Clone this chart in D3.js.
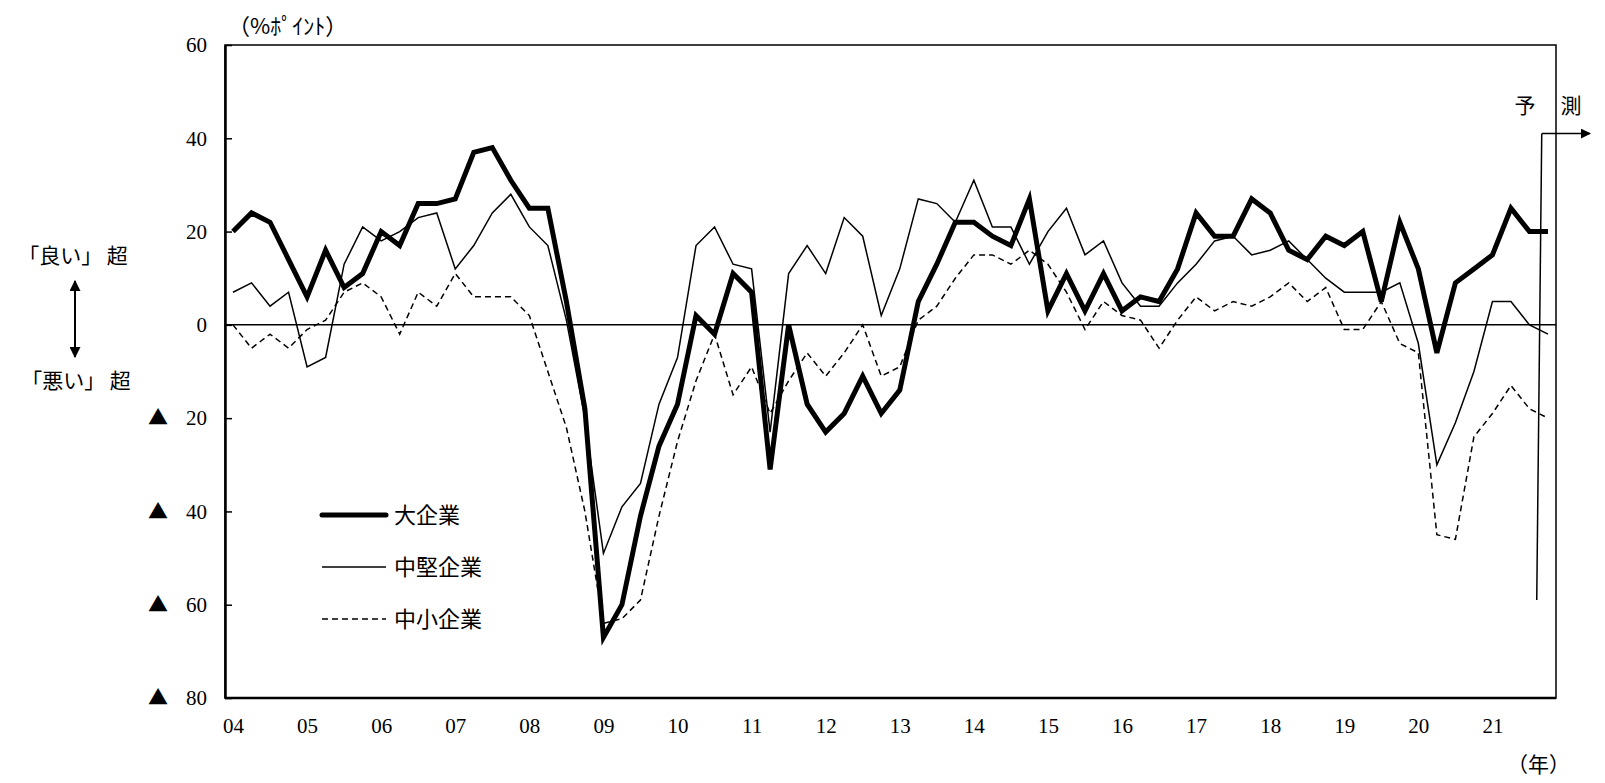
<!DOCTYPE html>
<html>
<head>
<meta charset="utf-8">
<script src="https://cdn.jsdelivr.net/npm/d3@7"></script>
<style>
  body { margin: 0; background: #fff; }
  svg { display: block; }
  .num { font-family: "Liberation Serif", "DejaVu Serif", serif; font-size: 21px; fill: #000; }
  .jp { font-family: "Noto Sans CJK JP", sans-serif; fill: #000; }
</style>
</head>
<body>
<script>
// quarterly, 2004 Q1 .. 2021 Q4 (last one is the forecast)
var years = ["04","05","06","07","08","09","10","11","12","13","14","15","16","17","18","19","20","21"];

var large = [20,24,22,14,6,16,8,11,20,17,
  26,26,27,37,38,31,25,25,5,-18,
  -67,-60,-41,-26,-17,2,-2,11,7,-31,
  0,-17,-23,-19,-11,-19,-14,5,13,22,
  22,19,17,27,3,11,3,11,3,6,
  5,12,24,19,19,27,24,16,14,19,
  17,20,5,22,12,-6,9,12,15,25,
  20,20];

var medium = [7,9,4,7,-9,-7,13,21,18,20,
  23,24,12,17,24,28,21,17,1,-20,
  -49,-39,-34,-17,-7,17,21,13,12,-23,
  11,17,11,23,19,2,12,27,26,22,
  31,21,21,13,20,25,15,18,9,4,
  4,9,13,18,19,15,16,18,14,10,
  7,7,7,9,-4,-30,-21,-10,5,5,
  0,-2];

var small = [0,-5,-2,-5,-1,1,7,9,6,-2,
  7,4,11,6,6,6,2,-10,-22,-40,
  -64,-63,-59,-41,-25,-12,-2,-15,-9,-19,
  -12,-6,-11,-6,0,-11,-9,1,4,10,
  15,15,13,16,13,7,-1,5,2,1,
  -5,1,6,3,5,4,6,9,5,8,
  -1,-1,5,-4,-6,-45,-46,-24,-19,-13,
  -18,-20];

var seriesNames = ["大企業", "中堅企業", "中小企業"];
var yTicks = [60, 40, 20, 0, -20, -40, -60, -80];
var forecastAt = 70.5, forecastTop = 41, forecastBottom = -59;

var W = 1605, H = 783;
var pLeft = 225, pRight = 1556, pTop = 45, pBottom = 698;

var svg = d3.select("body").append("svg")
  .attr("width", W)
  .attr("height", H);

var x = d3.scaleLinear().domain([0, 71]).range([233, 1548]);
var y = d3.scaleLinear().domain([-80, 60]).range([pBottom, pTop]);

// frame
svg.append("rect")
  .attr("x", pLeft).attr("y", pTop)
  .attr("width", pRight - pLeft).attr("height", pBottom - pTop)
  .attr("fill", "none").attr("stroke", "#000").attr("stroke-width", 1.5);

// y axis
var yAxis = d3.axisLeft(y)
  .tickValues(yTicks)
  .tickSizeInner(-7)
  .tickSizeOuter(0)
  .tickPadding(18)
  .tickFormat(function(d) { return Math.abs(d); });

var gy = svg.append("g")
  .attr("transform", "translate(" + pLeft + ",0)")
  .call(yAxis);
gy.select(".domain").attr("stroke-width", 2.5);
gy.selectAll(".tick line").attr("stroke-width", 1.5);
gy.selectAll("text").attr("class", "num").attr("font-family", null).attr("font-size", null);

svg.selectAll(".neg")
  .data(yTicks.filter(function(d) { return d < 0; }))
  .enter().append("text")
  .attr("class", "jp neg")
  .attr("x", 158)
  .attr("y", function(d) { return y(d); })
  .attr("dy", "0.36em")
  .attr("text-anchor", "middle")
  .attr("font-size", 20)
  .text("▲");

// bottom edge a bit heavier
svg.append("line")
  .attr("x1", pLeft).attr("x2", pRight)
  .attr("y1", pBottom).attr("y2", pBottom)
  .attr("stroke", "#000").attr("stroke-width", 2.5);

// x axis labels
var xAxis = d3.axisBottom(x)
  .tickValues(years.map(function(d, i) { return i * 4; }))
  .tickSize(0)
  .tickPadding(20)
  .tickFormat(function(d) { return years[d / 4]; });

var gx = svg.append("g")
  .attr("transform", "translate(0," + pBottom + ")")
  .call(xAxis);
gx.select(".domain").remove();
gx.selectAll("text").attr("class", "num").attr("font-family", null).attr("font-size", null);

// zero line
svg.append("line")
  .attr("x1", pLeft).attr("x2", pRight)
  .attr("y1", y(0)).attr("y2", y(0))
  .attr("stroke", "#000").attr("stroke-width", 1.5);

// lines
var line = d3.line()
  .x(function(d, i) { return x(i); })
  .y(function(d) { return y(d); });

svg.append("path").datum(small)
  .attr("d", line).attr("fill", "none")
  .attr("stroke", "#000").attr("stroke-width", 1.5)
  .attr("stroke-dasharray", "6,4");

svg.append("path").datum(medium)
  .attr("d", line).attr("fill", "none")
  .attr("stroke", "#000").attr("stroke-width", 1.5);

svg.append("path").datum(large)
  .attr("d", line).attr("fill", "none")
  .attr("stroke", "#000").attr("stroke-width", 5);

// forecast marker
var defs = svg.append("defs");
defs.append("marker")
  .attr("id", "arr")
  .attr("viewBox", "0 0 10 10")
  .attr("refX", 9).attr("refY", 5)
  .attr("markerWidth", 10).attr("markerHeight", 10)
  .attr("markerUnits", "userSpaceOnUse")
  .attr("orient", "auto")
  .append("path").attr("d", "M0,0L10,5L0,10Z").attr("fill", "#000");

svg.append("line")
  .attr("x1", x(forecastAt) + 3).attr("y1", y(forecastTop))
  .attr("x2", x(forecastAt) - 2).attr("y2", y(forecastBottom))
  .attr("stroke", "#000").attr("stroke-width", 1.5);

svg.append("line")
  .attr("x1", x(forecastAt) + 3).attr("y1", y(forecastTop))
  .attr("x2", 1590).attr("y2", y(forecastTop))
  .attr("stroke", "#000").attr("stroke-width", 1.5)
  .attr("marker-end", "url(#arr)");

svg.append("text").attr("class", "jp")
  .attr("x", 1525).attr("y", 113).attr("text-anchor", "middle")
  .attr("font-size", 21).text("予");
svg.append("text").attr("class", "jp")
  .attr("x", 1571).attr("y", 113).attr("text-anchor", "middle")
  .attr("font-size", 21).text("測");

// legend
var legend = svg.append("g").attr("transform", "translate(322,515)");
var legStyles = [
  { w: 5, dash: null },
  { w: 1.5, dash: null },
  { w: 1.5, dash: "6,4" }
];
seriesNames.forEach(function(name, i) {
  var g = legend.append("g").attr("transform", "translate(0," + (i * 52) + ")");
  g.append("line")
    .attr("x1", 0).attr("x2", 64).attr("y1", 0).attr("y2", 0)
    .attr("stroke", "#000").attr("stroke-width", legStyles[i].w)
    .attr("stroke-linecap", i === 0 ? "round" : "butt")
    .attr("stroke-dasharray", legStyles[i].dash);
  g.append("text").attr("class", "jp")
    .attr("x", 72).attr("y", 0).attr("dy", "0.36em")
    .attr("font-size", 22).text(name);
});

// units
svg.append("text").attr("class", "jp")
  .attr("x", 228).attr("y", 34).attr("font-size", 22)
  .text("（%ﾎﾟｲﾝﾄ）");
svg.append("text").attr("class", "jp")
  .attr("x", 1570).attr("y", 772).attr("text-anchor", "end").attr("font-size", 21)
  .text("（年）");

// good / bad annotation
svg.append("text").attr("class", "jp")
  .attr("x", 73).attr("y", 263).attr("text-anchor", "middle").attr("font-size", 21)
  .text("「良い」 超");
svg.append("text").attr("class", "jp")
  .attr("x", 76).attr("y", 388).attr("text-anchor", "middle").attr("font-size", 21)
  .text("「悪い」 超");

defs.append("marker")
  .attr("id", "arr2")
  .attr("viewBox", "0 0 10 10")
  .attr("refX", 9).attr("refY", 5)
  .attr("markerWidth", 11).attr("markerHeight", 11)
  .attr("markerUnits", "userSpaceOnUse")
  .attr("orient", "auto-start-reverse")
  .append("path").attr("d", "M0,0L10,5L0,10Z").attr("fill", "#000");

svg.append("line")
  .attr("x1", 75).attr("x2", 75)
  .attr("y1", 281).attr("y2", 357)
  .attr("stroke", "#000").attr("stroke-width", 2)
  .attr("marker-start", "url(#arr2)")
  .attr("marker-end", "url(#arr2)");
</script>
</body>
</html>
